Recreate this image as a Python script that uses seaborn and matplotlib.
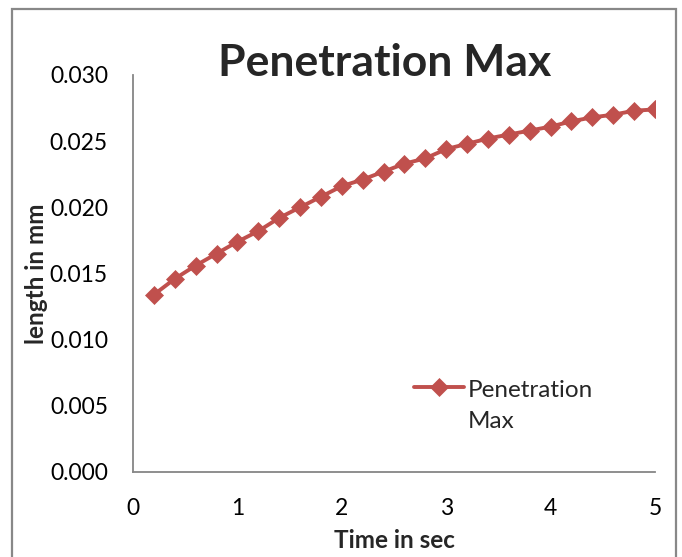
import numpy as np
import pandas as pd
import seaborn as sns
import matplotlib
matplotlib.use("Agg")
import matplotlib.pyplot as plt
from matplotlib.patches import Rectangle
from matplotlib.ticker import FormatStrFormatter

# Penetration depth over time
time_sec = [0.2, 0.4, 0.6, 0.8, 1.0, 1.2, 1.4, 1.6, 1.8, 2.0,
            2.2, 2.4, 2.6, 2.8, 3.0, 3.2, 3.4, 3.6, 3.8, 4.0,
            4.2, 4.4, 4.6, 4.8, 5.0]
penetration_max = [0.0134, 0.0146, 0.0156, 0.0165, 0.0174, 0.0182, 0.0192,
                   0.0200, 0.0208, 0.0216, 0.0221, 0.0227, 0.0233, 0.0237,
                   0.0244, 0.0248, 0.0252, 0.0255, 0.0258, 0.0261, 0.0265,
                   0.0268, 0.0270, 0.0273, 0.0274]
series_name = "Penetration\nMax"
title = "Penetration Max"
x_label = "Time in sec"
y_label = "length in mm"
x_ticks = [0, 1, 2, 3, 4, 5]
y_ticks = [0.000, 0.005, 0.010, 0.015, 0.020, 0.025, 0.030]

df = pd.DataFrame({"time": time_sec, "pen": penetration_max})

sns.set_style("white")
plt.rcParams["font.family"] = ["Lato", "DejaVu Sans"]

W, H = 682, 557
fig = plt.figure(figsize=(W / 100, H / 100), dpi=100)
ax = fig.add_axes([133 / W, 1 - 472 / H, (655 - 133) / W, (472 - 75) / H])

line_color = "#C0504D"
sns.lineplot(data=df, x="time", y="pen", ax=ax, color=line_color,
             marker="D", markersize=9.5, markeredgecolor=line_color,
             markeredgewidth=0.5, linewidth=2.8, label=series_name)

ax.set_xlim(0, 5)
ax.set_ylim(0, 0.030)
ax.set_xticks(x_ticks)
ax.set_yticks(y_ticks)
ax.yaxis.set_major_formatter(FormatStrFormatter("%.3f"))
ax.tick_params(axis="both", length=0, labelsize=16.5, colors="black")
ax.tick_params(axis="y", pad=18)
ax.tick_params(axis="x", pad=19)

for side in ("top", "right"):
    ax.spines[side].set_visible(False)
for side in ("left", "bottom"):
    ax.spines[side].set_color("#868686")
    ax.spines[side].set_linewidth(1.3)

ax.set_xlabel(x_label, fontsize=17.5, fontweight="bold")
ax.xaxis.set_label_coords(0.5, -(540 - 472) / (472 - 75))
ax.xaxis.label.set_va("center")
ax.set_ylabel(y_label, fontsize=17.5, fontweight="bold")
ax.yaxis.set_label_coords(-(133 - 36) / (655 - 133), 0.5)
ax.yaxis.label.set_va("center")

leg = ax.legend(loc="center left", bbox_to_anchor=(402 / W, 1 - 406 / H),
                bbox_transform=fig.transFigure, frameon=False, fontsize=17.5,
                handlelength=2.05, handletextpad=0.15, borderpad=0)
leg.get_texts()[0].set_linespacing(1.62)

fig.canvas.draw()
# align the legend key with the first line of its two-line label
handle = leg.legend_handles[0]
handle.set_ydata(np.asarray(handle.get_ydata()) + 13.5)

fig.text(384.5 / W, 1 - 76 / H, title, ha="center", va="baseline",
         fontsize=32, fontweight="bold")

# chart frame
fig.patches.append(Rectangle((11.7 / W, -0.05), (675.7 - 11.7) / W,
                             1.05 - 8.7 / H,
                             transform=fig.transFigure, fill=False,
                             edgecolor="#888888", linewidth=1.6))

fig.savefig("out.png", dpi=100, facecolor="white")
